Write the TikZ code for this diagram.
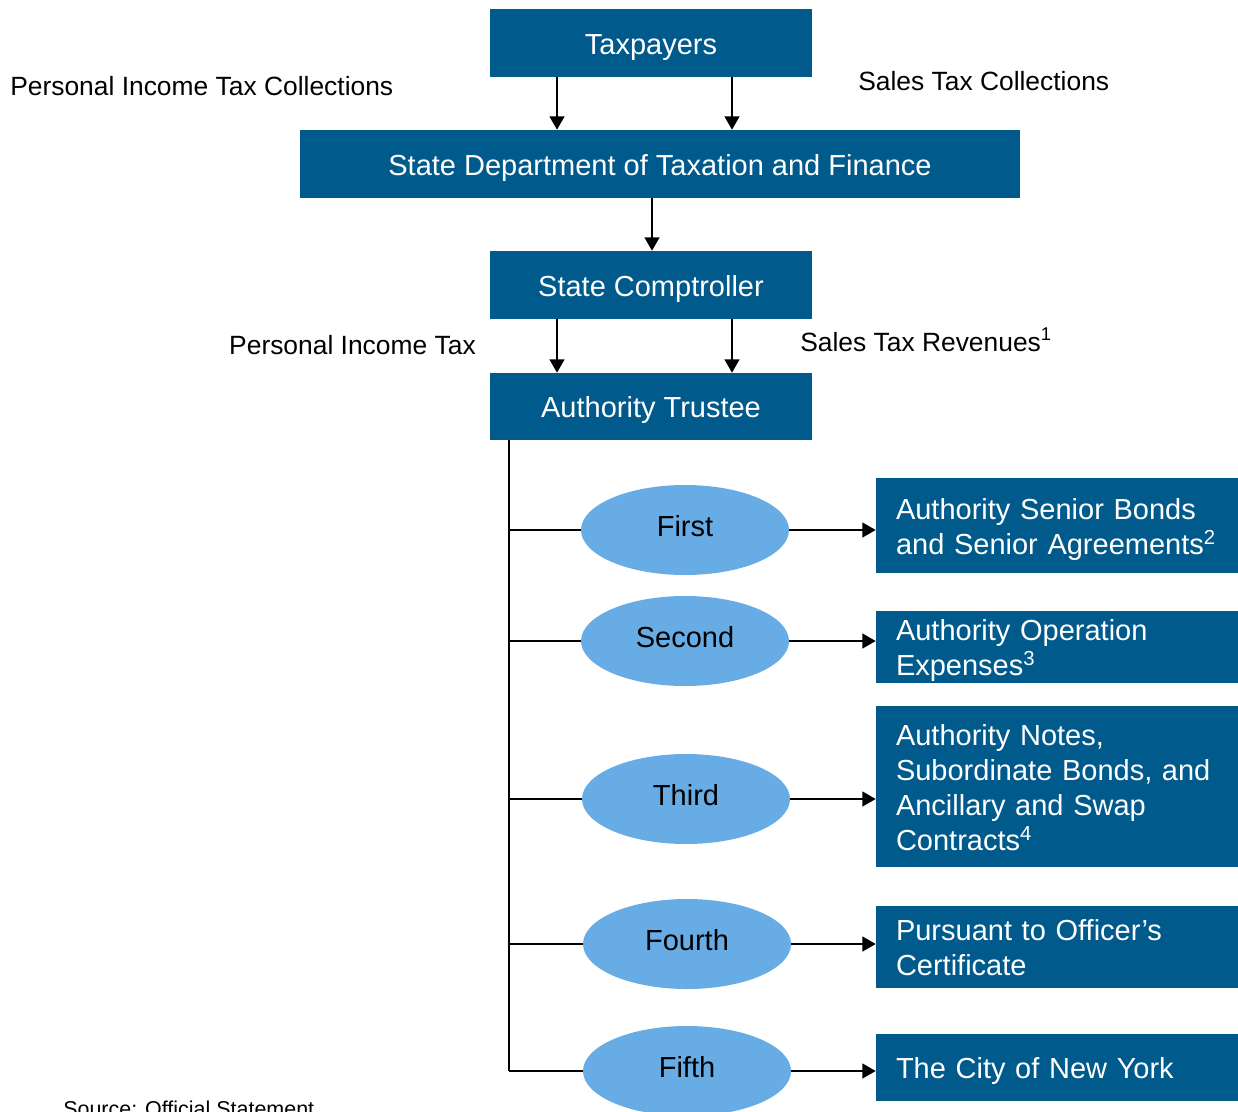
\documentclass[tikz,border=0pt]{standalone}
\usepackage{fontspec}
\setmainfont{Liberation Sans}
\usetikzlibrary{shapes.geometric,arrows.meta}
\definecolor{boxblue}{RGB}{0,90,140}
\definecolor{ellblue}{RGB}{103,172,228}
\newcommand{\dstrut}{\rule[-5pt]{0pt}{5pt}}
\tikzset{
  boxbase/.style={draw=none,fill=boxblue,text=white,inner sep=0pt,
    font=\fontsize{21.75}{26.25}\selectfont},
  bluebox/.style={boxbase,text height=22pt,text depth=5pt},
  rightbox/.style={boxbase,text height=22pt,minimum width=271.5pt,text width=241.5pt,align=left,inner xsep=15pt},
  oval/.style={ellipse,fill=ellblue,draw=none,minimum width=156pt,minimum height=67.5pt,inner sep=0pt,
    text height=14pt,text depth=5pt,font=\fontsize{21.75}{26.25}\selectfont},
  lbl/.style={inner sep=0pt,font=\fontsize{19.8}{24}\selectfont},
  arr/.style={line width=1.6pt,-{Triangle[width=11pt,length=10pt]}},
  ln/.style={line width=1.6pt}
}
\begin{document}
\begin{tikzpicture}[x=0.75pt,y=-0.75pt]
\useasboundingbox (0,0) rectangle (1238,1111);
% top boxes
\node[bluebox,minimum width=241.5pt,minimum height=51pt] (tax) at (651,43) {Taxpayers};
\node[bluebox,minimum width=540pt,minimum height=51pt] (dept) at (660,164) {State Department of Taxation and Finance};
\node[bluebox,minimum width=241.5pt,minimum height=51pt] (comp) at (651,285) {State Comptroller};
\node[bluebox,minimum width=241.5pt,minimum height=50.25pt] (trust) at (651,406.5) {Authority Trustee};
% labels
\node[lbl,anchor=base west] (l1) at (10,95) {Personal Income Tax Collections};
\node[lbl,anchor=base west] (l2) at (858,90) {Sales Tax Collections};
\node[lbl,anchor=base east] (l3) at (476,354) {Personal Income Tax};
\node[lbl,anchor=base west] (l4) at (800,351) {Sales Tax Revenues\textsuperscript{1}};
% connector x positions
\coordinate (cL) at (557,0);
\coordinate (cR) at (732,0);
\coordinate (cM) at (652,0);
\draw[arr] (tax.south -| cL) -- (dept.north -| cL);
\draw[arr] (tax.south -| cR) -- (dept.north -| cR);
\draw[arr] (dept.south -| cM) -- (comp.north -| cM);
\draw[arr] (comp.south -| cL) -- (trust.north -| cL);
\draw[arr] (comp.south -| cR) -- (trust.north -| cR);
% ellipses
\node[oval] (e1) at (685,530) {First};
\node[oval] (e2) at (685,641) {Second};
\node[oval] (e3) at (686,799) {Third};
\node[oval] (e4) at (687,944) {Fourth};
\node[oval] (e5) at (687,1071) {Fifth};
% right boxes
\node[rightbox,minimum height=71.25pt] (b1) at (1057,525.5) {Authority Senior Bonds\\and Senior Agreements\textsuperscript{2}\dstrut};
\node[rightbox,minimum height=54pt] (b2) at (1057,647) {Authority Operation\\Expenses\textsuperscript{3}\dstrut};
\node[rightbox,minimum height=120.75pt] (b3) at (1057,786.5) {Authority Notes,\\Subordinate Bonds, and\\Ancillary and Swap\\Contracts\textsuperscript{4}\dstrut};
\node[rightbox,minimum height=61.5pt] (b4) at (1057,947) {Pursuant to Officer's\\Certificate\dstrut};
\node[rightbox,minimum height=50.25pt] (b5) at (1057,1067.5) {The City of New York\dstrut};
% trunk
\coordinate (trunk) at (509,440);
\coordinate (trunkend) at (509,1071);
\draw[ln] (trunk) -- (trunkend);
\foreach \e/\b in {e1/b1,e2/b2,e3/b3,e4/b4,e5/b5}{
  \draw[ln] (trunk |- \e) -- (\e.west);
  \draw[arr] (\e.east) -- (\e.east -| \b.west);
}
% source
\node[inner sep=0pt,anchor=base west,font=\fontsize{16.1}{19}\selectfont] (src) at (63,1116) {Source: Official Statement};
\end{tikzpicture}
\end{document}
